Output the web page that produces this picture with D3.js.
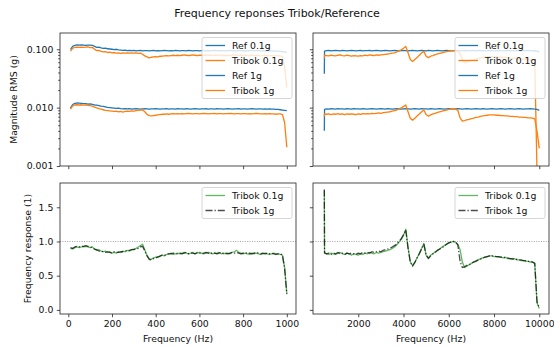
<!DOCTYPE html>
<html>
<head>
<meta charset="UTF-8">
<title></title>
<script src="https://cdn.jsdelivr.net/npm/d3@7"></script>
<style>
    body{
        padding: 0;
        margin: 0;
        background: #fff;
    }
    text{
        font-family: "DejaVu Sans", sans-serif;
        fill: #111;
    }
    .axis path{
        display: none;
    }
    .axis line{
        stroke: #222;
        stroke-width: 0.8;
    }
    .axis text{
        font-size: 9.3px;
    }
</style>
</head>
<body>
<div class="first"></div>
<script>

// frequency grids
var freqLeft = [
    10, 20, 30, 40, 50, 60, 70, 80, 90, 100,
    110, 120, 130, 140, 150, 160, 170, 180, 190, 200,
    210, 220, 230, 240, 250, 260, 270, 280, 290, 300,
    310, 320, 330, 340, 350, 360, 370, 380, 390, 400,
    410, 420, 430, 440, 450, 460, 470, 480, 490, 500,
    510, 520, 530, 540, 550, 560, 570, 580, 590, 600,
    610, 620, 630, 640, 650, 660, 670, 680, 690, 700,
    710, 720, 730, 740, 750, 760, 770, 780, 790, 800,
    810, 820, 830, 840, 850, 860, 870, 880, 890, 900,
    910, 920, 930, 940, 950, 960, 970, 980, 990, 1000
];
var freqRight = [
    500, 510,
    600, 700, 800, 900, 1000, 1100, 1200, 1300, 1400, 1500,
    1600, 1700, 1800, 1900, 2000, 2100, 2200, 2300, 2400, 2500,
    2600, 2700, 2800, 2900, 3000, 3100, 3200, 3300, 3400, 3500,
    3600, 3700, 3800, 3900, 4000, 4100, 4200, 4300, 4400, 4500,
    4600, 4700, 4800, 4900, 5000, 5100, 5200, 5300, 5400, 5500,
    5600, 5700, 5800, 5900, 6000, 6100, 6200, 6300, 6400, 6500,
    6600, 6700, 6800, 6900, 7000, 7100, 7200, 7300, 7400, 7500,
    7600, 7700, 7800, 7900, 8000, 8100, 8200, 8300, 8400, 8500,
    8600, 8700, 8800, 8900, 9000, 9100, 9200, 9300, 9400, 9500,
    9600, 9700, 9800, 9900, 10000
];

// magnitude RMS (g), low band
var refLeft01 = [
    0.100, 0.112, 0.117, 0.119, 0.118, 0.119, 0.118, 0.117, 0.118, 0.118,
    0.117, 0.112, 0.108, 0.109, 0.106, 0.104, 0.105, 0.102, 0.101, 0.100,
    0.099, 0.100, 0.098, 0.097, 0.096, 0.097, 0.095, 0.096, 0.095, 0.096,
    0.094, 0.095, 0.096, 0.094, 0.095, 0.095, 0.094, 0.095, 0.096, 0.094,
    0.095, 0.094, 0.095, 0.096, 0.095, 0.094, 0.095, 0.094, 0.096, 0.095,
    0.094, 0.095, 0.095, 0.094, 0.096, 0.095, 0.094, 0.095, 0.095, 0.094,
    0.095, 0.096, 0.094, 0.095, 0.094, 0.095, 0.096, 0.095, 0.094, 0.095,
    0.095, 0.094, 0.095, 0.096, 0.094, 0.095, 0.094, 0.095, 0.095, 0.094,
    0.095, 0.094, 0.095, 0.095, 0.094, 0.096, 0.095, 0.094, 0.095, 0.094,
    0.094, 0.095, 0.094, 0.094, 0.093, 0.093, 0.092, 0.091, 0.090, 0.088
];
var tribLeft01 = [
    0.093, 0.104, 0.108, 0.109, 0.108, 0.109, 0.108, 0.109, 0.110, 0.107,
    0.108, 0.100, 0.095, 0.096, 0.092, 0.090, 0.091, 0.088, 0.089, 0.087,
    0.088, 0.086, 0.087, 0.085, 0.087, 0.086, 0.087, 0.086, 0.087, 0.086,
    0.087, 0.085, 0.086, 0.082, 0.077, 0.074, 0.071, 0.073, 0.074, 0.075,
    0.074, 0.076, 0.076, 0.077, 0.078, 0.077, 0.078, 0.079, 0.078, 0.079,
    0.078, 0.079, 0.080, 0.079, 0.078, 0.079, 0.080, 0.079, 0.078, 0.079,
    0.079, 0.078, 0.079, 0.080, 0.079, 0.078, 0.079, 0.079, 0.080, 0.078,
    0.079, 0.078, 0.079, 0.078, 0.079, 0.080, 0.079, 0.078, 0.079, 0.078,
    0.079, 0.078, 0.077, 0.079, 0.078, 0.079, 0.078, 0.077, 0.078, 0.079,
    0.078, 0.077, 0.078, 0.078, 0.077, 0.078, 0.077, 0.075, 0.050, 0.022
];
var refLeft1 = [
    0.0098, 0.0113, 0.0118, 0.0120, 0.0119, 0.0118, 0.0117, 0.0117, 0.0115, 0.0116,
    0.0114, 0.0111, 0.0110, 0.0108, 0.0106, 0.0105, 0.0103, 0.0101, 0.0100, 0.0099,
    0.0098, 0.0097, 0.0098, 0.0096, 0.0095, 0.0096, 0.0095, 0.0096, 0.0094, 0.0095,
    0.0096, 0.0095, 0.0094, 0.0095, 0.0096, 0.0095, 0.0094, 0.0095, 0.0095, 0.0096,
    0.0095, 0.0094, 0.0095, 0.0095, 0.0096, 0.0094, 0.0095, 0.0095, 0.0094, 0.0096,
    0.0095, 0.0095, 0.0094, 0.0096, 0.0095, 0.0094, 0.0095, 0.0096, 0.0095, 0.0094,
    0.0095, 0.0095, 0.0096, 0.0094, 0.0095, 0.0095, 0.0094, 0.0096, 0.0095, 0.0095,
    0.0094, 0.0095, 0.0096, 0.0095, 0.0094, 0.0095, 0.0095, 0.0096, 0.0094, 0.0095,
    0.0095, 0.0094, 0.0095, 0.0096, 0.0095, 0.0094, 0.0095, 0.0095, 0.0094, 0.0095,
    0.0094, 0.0095, 0.0094, 0.0094, 0.0093, 0.0093, 0.0092, 0.0091, 0.0090, 0.0089
];
var tribLeft1 = [
    0.0094, 0.0107, 0.0111, 0.0112, 0.0111, 0.0112, 0.0110, 0.0111, 0.0109, 0.0108,
    0.0106, 0.0102, 0.0099, 0.0096, 0.0094, 0.0092, 0.0090, 0.0089, 0.0088, 0.0087,
    0.0086, 0.0087, 0.0085, 0.0086, 0.0084, 0.0086, 0.0087, 0.0086, 0.0088, 0.0087,
    0.0089, 0.0090, 0.0091, 0.0092, 0.0085, 0.0077, 0.0073, 0.0072, 0.0073, 0.0074,
    0.0075, 0.0076, 0.0077, 0.0077, 0.0078, 0.0077, 0.0078, 0.0079, 0.0078, 0.0079,
    0.0078, 0.0079, 0.0078, 0.0079, 0.0080, 0.0079, 0.0078, 0.0079, 0.0079, 0.0078,
    0.0079, 0.0080, 0.0079, 0.0078, 0.0079, 0.0079, 0.0080, 0.0078, 0.0079, 0.0079,
    0.0078, 0.0079, 0.0079, 0.0080, 0.0079, 0.0078, 0.0079, 0.0079, 0.0078, 0.0079,
    0.0079, 0.0078, 0.0079, 0.0078, 0.0079, 0.0080, 0.0079, 0.0078, 0.0078, 0.0079,
    0.0078, 0.0079, 0.0078, 0.0078, 0.0077, 0.0078, 0.0078, 0.0076, 0.0055, 0.0021
];

// magnitude RMS (g), high band
var refRight01 = [
    0.038, 0.093,
    0.095, 0.096, 0.094, 0.095, 0.096, 0.095, 0.094, 0.096, 0.095, 0.094,
    0.095, 0.096, 0.095, 0.094, 0.095, 0.096, 0.094, 0.095, 0.095, 0.096,
    0.094, 0.095, 0.096, 0.095, 0.094, 0.095, 0.096, 0.095, 0.094, 0.095,
    0.096, 0.095, 0.094, 0.095, 0.096, 0.095, 0.094, 0.095, 0.096, 0.095,
    0.094, 0.095, 0.096, 0.095, 0.094, 0.096, 0.095, 0.094, 0.095, 0.096,
    0.095, 0.094, 0.095, 0.096, 0.095, 0.094, 0.095, 0.096, 0.095, 0.094,
    0.095, 0.096, 0.095, 0.094, 0.095, 0.096, 0.094, 0.095, 0.096, 0.095,
    0.094, 0.095, 0.096, 0.095, 0.094, 0.095, 0.096, 0.095, 0.094, 0.095,
    0.096, 0.095, 0.094, 0.095, 0.096, 0.095, 0.094, 0.095, 0.095, 0.096,
    0.095, 0.094, 0.095, 0.093, 0.090
];
var tribRight01 = [
    0.070, 0.079,
    0.078, 0.077, 0.079, 0.078, 0.077, 0.079, 0.080, 0.078, 0.077, 0.079,
    0.078, 0.076, 0.078, 0.077, 0.076, 0.078, 0.077, 0.079, 0.078, 0.080,
    0.079, 0.078, 0.080, 0.079, 0.080, 0.081, 0.082, 0.083, 0.084, 0.086,
    0.087, 0.090, 0.094, 0.098, 0.104, 0.112, 0.087, 0.067, 0.062, 0.067,
    0.072, 0.079, 0.086, 0.092, 0.076, 0.072, 0.076, 0.078, 0.081, 0.083,
    0.085, 0.087, 0.089, 0.091, 0.093, 0.094, 0.095, 0.094, 0.091, 0.084,
    0.067, 0.059, 0.061, 0.063, 0.065, 0.066, 0.068, 0.069, 0.071, 0.072,
    0.073, 0.074, 0.075, 0.075, 0.074, 0.074, 0.073, 0.073, 0.072, 0.073,
    0.071, 0.071, 0.070, 0.071, 0.069, 0.069, 0.068, 0.068, 0.067, 0.067,
    0.066, 0.066, 0.064, 0.0008, 0.0006
];
var refRight1 = [
    0.0040, 0.0093,
    0.0095, 0.0094, 0.0096, 0.0095, 0.0094, 0.0096, 0.0095, 0.0095, 0.0094, 0.0096,
    0.0095, 0.0094, 0.0096, 0.0095, 0.0095, 0.0094, 0.0096, 0.0095, 0.0094, 0.0095,
    0.0096, 0.0095, 0.0094, 0.0095, 0.0096, 0.0095, 0.0094, 0.0096, 0.0095, 0.0094,
    0.0095, 0.0096, 0.0095, 0.0094, 0.0095, 0.0096, 0.0095, 0.0094, 0.0095, 0.0096,
    0.0095, 0.0094, 0.0096, 0.0095, 0.0095, 0.0094, 0.0096, 0.0095, 0.0094, 0.0095,
    0.0096, 0.0095, 0.0094, 0.0095, 0.0096, 0.0095, 0.0094, 0.0095, 0.0096, 0.0095,
    0.0094, 0.0095, 0.0096, 0.0095, 0.0094, 0.0095, 0.0096, 0.0095, 0.0094, 0.0096,
    0.0095, 0.0094, 0.0095, 0.0096, 0.0095, 0.0094, 0.0095, 0.0096, 0.0095, 0.0094,
    0.0095, 0.0096, 0.0095, 0.0094, 0.0095, 0.0096, 0.0095, 0.0094, 0.0095, 0.0095,
    0.0096, 0.0095, 0.0094, 0.0093, 0.0090
];
var tribRight1 = [
    0.0070, 0.0078,
    0.0077, 0.0078, 0.0076, 0.0078, 0.0077, 0.0079, 0.0077, 0.0078, 0.0076, 0.0078,
    0.0077, 0.0078, 0.0077, 0.0076, 0.0078, 0.0077, 0.0079, 0.0078, 0.0079, 0.0078,
    0.0080, 0.0079, 0.0080, 0.0081, 0.0080, 0.0082, 0.0083, 0.0084, 0.0085, 0.0087,
    0.0089, 0.0091, 0.0095, 0.0099, 0.0104, 0.0111, 0.0085, 0.0066, 0.0061, 0.0066,
    0.0072, 0.0078, 0.0085, 0.0091, 0.0076, 0.0071, 0.0075, 0.0078, 0.0080, 0.0083,
    0.0085, 0.0087, 0.0089, 0.0091, 0.0093, 0.0094, 0.0095, 0.0094, 0.0090, 0.0067,
    0.0059, 0.0060, 0.0062, 0.0063, 0.0065, 0.0066, 0.0068, 0.0069, 0.0071, 0.0072,
    0.0073, 0.0074, 0.0075, 0.0075, 0.0075, 0.0074, 0.0074, 0.0073, 0.0073, 0.0072,
    0.0072, 0.0071, 0.0071, 0.0070, 0.0070, 0.0069, 0.0069, 0.0068, 0.0068, 0.0067,
    0.0067, 0.0066, 0.0064, 0.0040, 0.0020
];

// frequency response Tribok/Reference
var respLeft01 = [
    0.90, 0.89, 0.91, 0.92, 0.91, 0.92, 0.92, 0.93, 0.92, 0.91,
    0.92, 0.89, 0.87, 0.88, 0.86, 0.85, 0.86, 0.84, 0.85, 0.83,
    0.84, 0.83, 0.85, 0.84, 0.86, 0.85, 0.87, 0.86, 0.88, 0.89,
    0.90, 0.92, 0.94, 0.96, 0.88, 0.80, 0.75, 0.74, 0.76, 0.77,
    0.78, 0.78, 0.80, 0.79, 0.81, 0.82, 0.83, 0.81, 0.82, 0.83,
    0.82, 0.83, 0.84, 0.83, 0.82, 0.83, 0.84, 0.82, 0.83, 0.84,
    0.83, 0.82, 0.83, 0.84, 0.83, 0.82, 0.83, 0.83, 0.84, 0.82,
    0.83, 0.82, 0.83, 0.82, 0.84, 0.85, 0.87, 0.84, 0.83, 0.82,
    0.83, 0.82, 0.81, 0.83, 0.82, 0.83, 0.82, 0.81, 0.82, 0.83,
    0.82, 0.81, 0.82, 0.83, 0.82, 0.82, 0.81, 0.80, 0.62, 0.24
];
var respLeft1 = [
    0.91, 0.90, 0.92, 0.93, 0.92, 0.93, 0.93, 0.94, 0.93, 0.92,
    0.91, 0.89, 0.88, 0.86, 0.86, 0.85, 0.84, 0.85, 0.84, 0.83,
    0.85, 0.84, 0.84, 0.85, 0.85, 0.86, 0.87, 0.87, 0.88, 0.88,
    0.89, 0.90, 0.92, 0.93, 0.86, 0.79, 0.74, 0.73, 0.75, 0.76,
    0.77, 0.79, 0.80, 0.80, 0.81, 0.82, 0.82, 0.83, 0.82, 0.82,
    0.83, 0.82, 0.83, 0.84, 0.82, 0.83, 0.83, 0.82, 0.84, 0.83,
    0.82, 0.83, 0.84, 0.83, 0.82, 0.84, 0.83, 0.82, 0.83, 0.84,
    0.82, 0.83, 0.82, 0.83, 0.84, 0.83, 0.84, 0.83, 0.82, 0.83,
    0.84, 0.82, 0.83, 0.82, 0.83, 0.84, 0.83, 0.82, 0.83, 0.82,
    0.83, 0.82, 0.83, 0.82, 0.81, 0.82, 0.82, 0.80, 0.60, 0.23
];
var respRight01 = [
    1.75, 0.84,
    0.82, 0.81, 0.83, 0.82, 0.81, 0.83, 0.84, 0.82, 0.81, 0.83,
    0.82, 0.80, 0.82, 0.81, 0.80, 0.82, 0.81, 0.83, 0.82, 0.84,
    0.83, 0.82, 0.84, 0.83, 0.84, 0.85, 0.86, 0.87, 0.88, 0.90,
    0.92, 0.95, 0.99, 1.03, 1.09, 1.18, 0.92, 0.70, 0.65, 0.70,
    0.76, 0.83, 0.90, 0.97, 0.80, 0.76, 0.80, 0.82, 0.85, 0.87,
    0.89, 0.92, 0.94, 0.96, 0.98, 0.99, 1.00, 0.99, 0.96, 0.88,
    0.70, 0.62, 0.64, 0.66, 0.68, 0.70, 0.72, 0.73, 0.75, 0.76,
    0.77, 0.78, 0.79, 0.79, 0.78, 0.78, 0.77, 0.77, 0.76, 0.77,
    0.75, 0.75, 0.74, 0.75, 0.73, 0.73, 0.72, 0.72, 0.71, 0.71,
    0.70, 0.70, 0.68, 0.10, 0.02
];
var respRight1 = [
    1.76, 0.83,
    0.82, 0.83, 0.81, 0.83, 0.82, 0.84, 0.82, 0.83, 0.81, 0.83,
    0.82, 0.83, 0.82, 0.81, 0.83, 0.82, 0.84, 0.83, 0.84, 0.83,
    0.85, 0.84, 0.85, 0.86, 0.85, 0.87, 0.88, 0.89, 0.90, 0.92,
    0.94, 0.96, 1.00, 1.04, 1.10, 1.17, 0.90, 0.70, 0.64, 0.69,
    0.76, 0.82, 0.89, 0.96, 0.80, 0.75, 0.79, 0.82, 0.84, 0.87,
    0.89, 0.91, 0.93, 0.96, 0.98, 0.99, 1.00, 0.99, 0.95, 0.71,
    0.62, 0.63, 0.65, 0.66, 0.68, 0.70, 0.71, 0.73, 0.74, 0.76,
    0.77, 0.78, 0.79, 0.79, 0.79, 0.78, 0.78, 0.77, 0.77, 0.76,
    0.76, 0.75, 0.75, 0.74, 0.74, 0.73, 0.73, 0.72, 0.72, 0.71,
    0.71, 0.70, 0.68, 0.12, 0.03
];

// ticks
var ticksLeft = [0, 200, 400, 600, 800, 1000];
var ticksRight = [2000, 4000, 6000, 8000, 10000];
var ticksMag = [0.001, 0.01, 0.1];
var ticksMagMinor = [0.002, 0.003, 0.004, 0.005, 0.006, 0.007, 0.008, 0.009,
    0.02, 0.03, 0.04, 0.05, 0.06, 0.07, 0.08, 0.09];
var ticksResp = [0, 0.5, 1.0, 1.5];

var blue = "#1f77b4", orange = "#ff7f0e", green = "#2ca02c";

var svg = d3.select(".first")
    .append("svg")
    .attr("width", 554)
    .attr("height", 347);

// scales
var xLeft = d3.scaleLinear().domain([-38, 1042]).range([60, 296]);
var xRight = d3.scaleLinear().domain([0, 10430]).range([313, 549]);
var yMag = d3.scaleLog().domain([0.001, 0.19]).range([166, 33]);
var yResp = d3.scaleLinear().domain([-0.06, 1.855]).range([314, 183]);

var panels = [
    {id: "tl", x: xLeft, y: yMag, xt: ticksLeft, xlab: false, ylab: true, top: true},
    {id: "tr", x: xRight, y: yMag, xt: ticksRight, xlab: false, ylab: false, top: true},
    {id: "bl", x: xLeft, y: yResp, xt: ticksLeft, xlab: true, ylab: true, top: false},
    {id: "br", x: xRight, y: yResp, xt: ticksRight, xlab: true, ylab: false, top: false}
];

var defs = svg.append("defs");

function drawLine(g, p, xs, ys, color, dash, opacity) {
    var pts = xs.map(function(f, i){ return [f, ys[i]]; });
    var line = d3.line()
        .x(function(d){ return p.x(d[0]); })
        .y(function(d){ return p.y(d[1]); });
    g.append("path")
        .attr("d", line(pts))
        .attr("fill", "none")
        .attr("stroke", color)
        .attr("stroke-width", 1.3)
        .attr("stroke-opacity", opacity)
        .attr("stroke-linejoin", "round")
        .attr("stroke-dasharray", dash);
}

function drawLegend(p, entries) {
    var x0 = p.x.range()[1] - 4 - 90;
    var y0 = p.y.range()[1] + 4.5;
    var h = entries.length * 15 + 1;
    var g = svg.append("g");
    g.append("rect")
        .attr("x", x0).attr("y", y0)
        .attr("width", 90).attr("height", h)
        .attr("rx", 2)
        .attr("fill", "#fff").attr("fill-opacity", 0.8)
        .attr("stroke", "#ccc").attr("stroke-width", 0.8);
    entries.forEach(function(e, i){
        var cy = y0 + 8 + i * 15;
        g.append("line")
            .attr("x1", x0 + 3.5).attr("x2", x0 + 23)
            .attr("y1", cy).attr("y2", cy)
            .attr("stroke", e.color)
            .attr("stroke-width", 1.3)
            .attr("stroke-opacity", e.opacity)
            .attr("stroke-dasharray", e.dash);
        g.append("text")
            .attr("x", x0 + 30).attr("y", cy)
            .attr("dy", "0.35em")
            .style("font-size", "9.3px")
            .text(e.label);
    });
}

panels.forEach(function(p){
    var xr = p.x.range(), yr = p.y.range();

    defs.append("clipPath").attr("id", "clip-" + p.id)
        .append("rect")
        .attr("x", xr[0]).attr("y", yr[1])
        .attr("width", xr[1] - xr[0]).attr("height", yr[0] - yr[1]);

    var g = svg.append("g").attr("clip-path", "url(#clip-" + p.id + ")");

    if (p.top) {
        var left = p.id === "tl";
        var fx = left ? freqLeft : freqRight;
        drawLine(g, p, fx, left ? refLeft01 : refRight01, blue, null, 1);
        drawLine(g, p, fx, left ? tribLeft01 : tribRight01, orange, null, 1);
        drawLine(g, p, fx, left ? refLeft1 : refRight1, blue, null, 1);
        drawLine(g, p, fx, left ? tribLeft1 : tribRight1, orange, null, 1);
    } else {
        var leftB = p.id === "bl";
        var fb = leftB ? freqLeft : freqRight;
        g.append("line")
            .attr("x1", xr[0]).attr("x2", xr[1])
            .attr("y1", p.y(1)).attr("y2", p.y(1))
            .attr("stroke", "#666")
            .attr("stroke-width", 0.6)
            .attr("stroke-dasharray", "1,1.4");
        drawLine(g, p, fb, leftB ? respLeft01 : respRight01, green, null, 0.75);
        drawLine(g, p, fb, leftB ? respLeft1 : respRight1, "#000", "7,2,1.3,2", 0.7);
    }

    // x axis
    svg.append("g")
        .attr("class", "axis")
        .attr("transform", "translate(0," + yr[0] + ")")
        .call(d3.axisBottom(p.x).tickValues(p.xt).tickSize(3.2).tickPadding(3)
            .tickFormat(p.xlab ? d3.format("d") : ""));

    // y axis
    if (p.top) {
        svg.append("g")
            .attr("class", "axis")
            .attr("transform", "translate(" + xr[0] + ",0)")
            .call(d3.axisLeft(p.y).tickValues(ticksMag).tickSize(3.2).tickPadding(3.5)
                .tickFormat(p.ylab ? d3.format(".3f") : ""));
        svg.append("g")
            .attr("class", "axis")
            .attr("transform", "translate(" + xr[0] + ",0)")
            .call(d3.axisLeft(p.y).tickValues(ticksMagMinor).tickSize(1.8).tickFormat(""));
    } else {
        svg.append("g")
            .attr("class", "axis")
            .attr("transform", "translate(" + xr[0] + ",0)")
            .call(d3.axisLeft(p.y).tickValues(ticksResp).tickSize(3.2).tickPadding(3.5)
                .tickFormat(p.ylab ? d3.format(".1f") : ""));
    }

    // frame
    svg.append("rect")
        .attr("x", xr[0]).attr("y", yr[1])
        .attr("width", xr[1] - xr[0]).attr("height", yr[0] - yr[1])
        .attr("fill", "none")
        .attr("stroke", "#222")
        .attr("stroke-width", 0.8);

    if (p.top) {
        drawLegend(p, [
            {label: "Ref 0.1g", color: blue, opacity: 1, dash: null},
            {label: "Tribok 0.1g", color: orange, opacity: 1, dash: null},
            {label: "Ref 1g", color: blue, opacity: 1, dash: null},
            {label: "Tribok 1g", color: orange, opacity: 1, dash: null}
        ]);
    } else {
        drawLegend(p, [
            {label: "Tribok 0.1g", color: green, opacity: 0.75, dash: null},
            {label: "Tribok 1g", color: "#000", opacity: 0.7, dash: "7,2,1.3,2"}
        ]);
    }
});

// titles and labels
svg.append("text")
    .attr("x", 277).attr("y", 17)
    .attr("text-anchor", "middle")
    .style("font-size", "11px")
    .text("Frequency reponses Tribok/Reference");

svg.append("text")
    .attr("transform", "translate(17,99.5) rotate(-90)")
    .attr("text-anchor", "middle")
    .style("font-size", "9.3px")
    .text("Magnitude RMS (g)");

svg.append("text")
    .attr("transform", "translate(31,248.5) rotate(-90)")
    .attr("text-anchor", "middle")
    .style("font-size", "9.3px")
    .text("Frequency response (1)");

svg.append("text")
    .attr("x", 178).attr("y", 342)
    .attr("text-anchor", "middle")
    .style("font-size", "9.3px")
    .text("Frequency (Hz)");

svg.append("text")
    .attr("x", 431).attr("y", 342)
    .attr("text-anchor", "middle")
    .style("font-size", "9.3px")
    .text("Frequency (Hz)");

</script>
</body>
</html>
